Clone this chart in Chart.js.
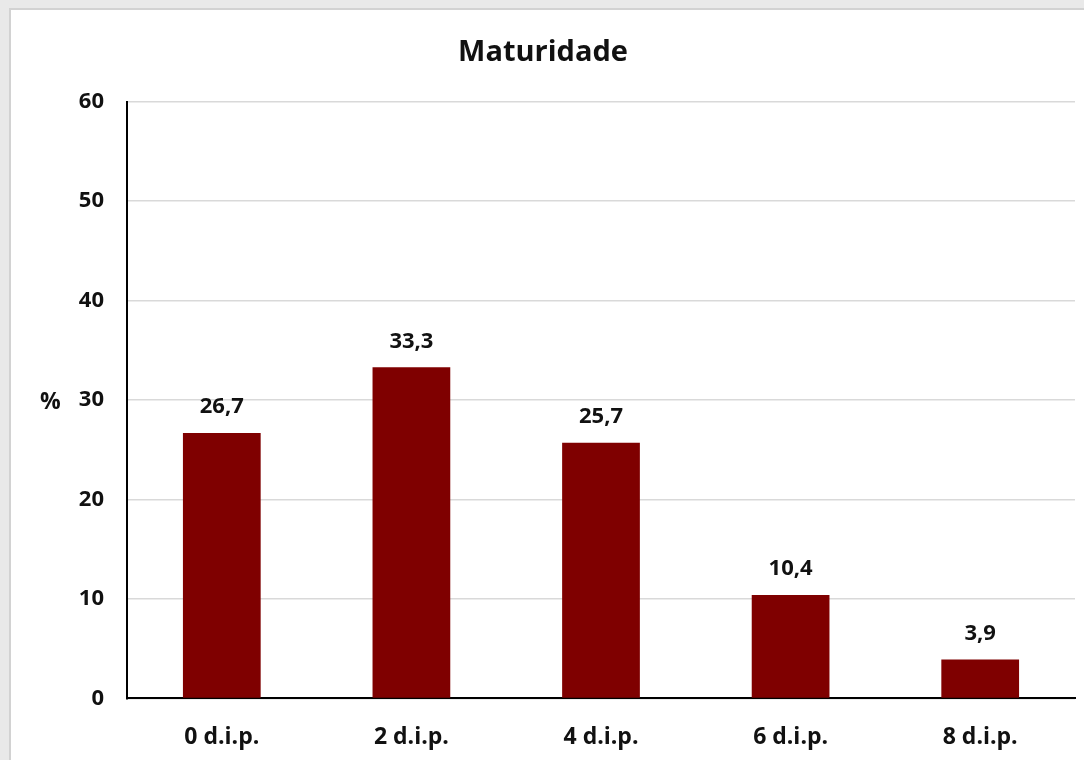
<!DOCTYPE html>
<html>
<head>
<meta charset="utf-8">
<script src="https://cdn.jsdelivr.net/npm/chart.js@4.4.0/dist/chart.umd.min.js"></script>
<style>
  html, body { margin: 0; padding: 0; }
  body { width: 1084px; height: 760px; background: #e9e9e9; position: relative; overflow: hidden; }
  #box { position: absolute; left: 9px; top: 8px; width: 1075px; height: 752px; background: #ffffff;
         border-top: 2px solid #d2d2d2; border-left: 2px solid #d2d2d2; box-sizing: border-box; }
  #c { position: absolute; left: 0; top: 0; }
</style>
</head>
<body>
<div id="box"><canvas id="c" width="1073" height="772"></canvas></div>
<script>
const categories = ["0 d.i.p.", "2 d.i.p.", "4 d.i.p.", "6 d.i.p.", "8 d.i.p."];
const values = [26.7, 33.3, 25.7, 10.4, 3.9];
const titleText = "Maturidade";
const yAxisLabel = "%";
const yTicks = [0, 10, 20, 30, 40, 50, 60];

const FONT = "'Open Sans', 'Noto Sans', sans-serif";

const labelPlugin = {
  id: 'labels',
  afterDatasetsDraw(chart) {
    const ctx = chart.ctx;
    const meta = chart.getDatasetMeta(0);
    ctx.save();
    ctx.font = "bold 22px " + FONT;
    ctx.fillStyle = "#111";
    ctx.textAlign = "center";
    ctx.textBaseline = "middle";
    meta.data.forEach((bar, i) => {
      ctx.fillText(values[i].toFixed(1).replace('.', ','), bar.x, bar.y - 26);
    });
    // axis title "%" beside tick 30
    const y = chart.scales.y.getPixelForValue(30);
    ctx.textAlign = "left";
    ctx.font = "bold 23px " + FONT;
    ctx.fillText(yAxisLabel, 29, y + 2);
    ctx.restore();
  }
};

new Chart(document.getElementById('c'), {
  type: 'bar',
  data: {
    labels: categories,
    datasets: [{
      data: values,
      backgroundColor: '#7f0000',
      barPercentage: 0.41,
      categoryPercentage: 1.0
    }]
  },
  options: {
    responsive: false,
    animation: false,
    devicePixelRatio: 1,
    layout: { padding: { left: 0, right: 9, top: 0, bottom: 6 } },
    plugins: {
      legend: { display: false },
      tooltip: { enabled: false },
      title: {
        display: true,
        text: titleText,
        color: '#111',
        font: { family: FONT, size: 29, weight: 'bold' },
        padding: { top: 25, bottom: 32 }
      }
    },
    scales: {
      x: {
        grid: { display: false, drawTicks: false },
        border: { color: '#000', width: 2 },
        ticks: { color: '#111', font: { family: FONT, size: 23, weight: 'bold' }, padding: 25 }
      },
      y: {
        min: 0, max: 60,
        afterBuildTicks(scale) { scale.ticks = yTicks.map(v => ({ value: v })); },
        afterFit(scale) { scale.width = 116; },
        grid: { color: '#d9d9d9', lineWidth: 1.5, drawTicks: false },
        border: { color: '#000', width: 2 },
        ticks: { color: '#111', font: { family: FONT, size: 22, weight: 'bold' }, padding: 23 }
      }
    }
  },
  plugins: [labelPlugin]
});
</script>
</body>
</html>
